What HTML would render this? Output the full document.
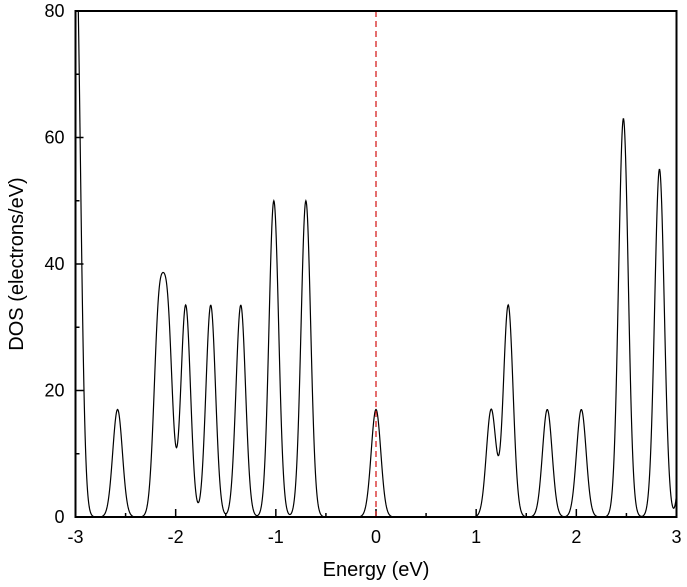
<!DOCTYPE html>
<html><head><meta charset="utf-8"><style>
html,body{margin:0;padding:0;background:#fff;}
svg{display:block;font-family:"Liberation Sans",sans-serif;}
</style></head><body>
<svg id="chart" width="687" height="587">
<defs><clipPath id="clip"><rect x="76" y="11" width="600" height="506"/></clipPath></defs>
<g id="axes"></g>
<path id="dos" fill="none" stroke="#000" stroke-width="1.2" clip-path="url(#clip)"/>
<line id="fermi" stroke="#d62020" stroke-width="1.3" stroke-dasharray="6,4"/>
<rect x="75.5" y="11" width="601" height="506" fill="none" stroke="#000" stroke-width="2"/>
<text x="376" y="576" font-size="20" text-anchor="middle">Energy (eV)</text>
<text transform="translate(23,264) rotate(-90)" font-size="20" text-anchor="middle">DOS (electrons/eV)</text>
</svg>
<script>
const peakCenters=[-3.0,-2.58,-2.17,-2.08,-1.90,-1.65,-1.35,-1.02,-0.70,0.0,1.15,1.32,1.71,2.05,2.47,2.83,3.12];
const peakHeights=[95,17,30,30,33.5,33.5,33.5,50,50,17,17,33.5,17,17,63,55,80];
const peakSigma=0.048;
const xTicks=[-3,-2,-1,0,1,2,3];
const yTicks=[0,20,40,60,80];
const fermiEnergy=0;
const X0=75.5,X1=676.5,Y0=517,Y1=11;
const xs=e=>X0+(e+3)/6*(X1-X0);
const ys=v=>Y0-v/80*(Y0-Y1);
const NS="http://www.w3.org/2000/svg";
function dos(e){let s=0;for(let i=0;i<peakCenters.length;i++){const d=e-peakCenters[i];s+=peakHeights[i]*Math.exp(-d*d/(2*peakSigma*peakSigma));}return s;}
let d="";
for(let e=-3;e<=3.0001;e+=0.004){d+=(d?"L":"M")+xs(e).toFixed(2)+","+ys(dos(e)).toFixed(2);}
document.getElementById('dos').setAttribute('d',d);
const f=document.getElementById('fermi');
f.setAttribute('x1',xs(fermiEnergy));f.setAttribute('x2',xs(fermiEnergy));f.setAttribute('y1',Y1);f.setAttribute('y2',Y0);
const ax=document.getElementById('axes');
function line(x1,y1,x2,y2){const l=document.createElementNS(NS,'line');l.setAttribute('x1',x1);l.setAttribute('y1',y1);l.setAttribute('x2',x2);l.setAttribute('y2',y2);l.setAttribute('stroke','#000');l.setAttribute('stroke-width','1.5');ax.appendChild(l);return l;}
function text(x,y,s,anchor){const t=document.createElementNS(NS,'text');t.setAttribute('x',x);t.setAttribute('y',y);t.setAttribute('font-size','18');t.setAttribute('text-anchor',anchor);t.textContent=s;ax.appendChild(t);return t;}
xTicks.forEach((v,i)=>{
  const l=line(xs(v),Y0,xs(v),Y0-8);
  
  
  const t=text(xs(v),Y0+26,String(v),'middle');
  
  
  if(i<xTicks.length-1){const m=line(xs(v+0.5),Y0,xs(v+0.5),Y0-4);
  
  }
});
yTicks.forEach((v,i)=>{
  const l=line(X0,ys(v),X0+8,ys(v));
  
  
  const t=text(X0-11,ys(v)+6,String(v),'end');
  
  
  if(i<yTicks.length-1){const m=line(X0,ys(v+10),X0+4,ys(v+10));
  
  }
});
</script>
</body></html>
